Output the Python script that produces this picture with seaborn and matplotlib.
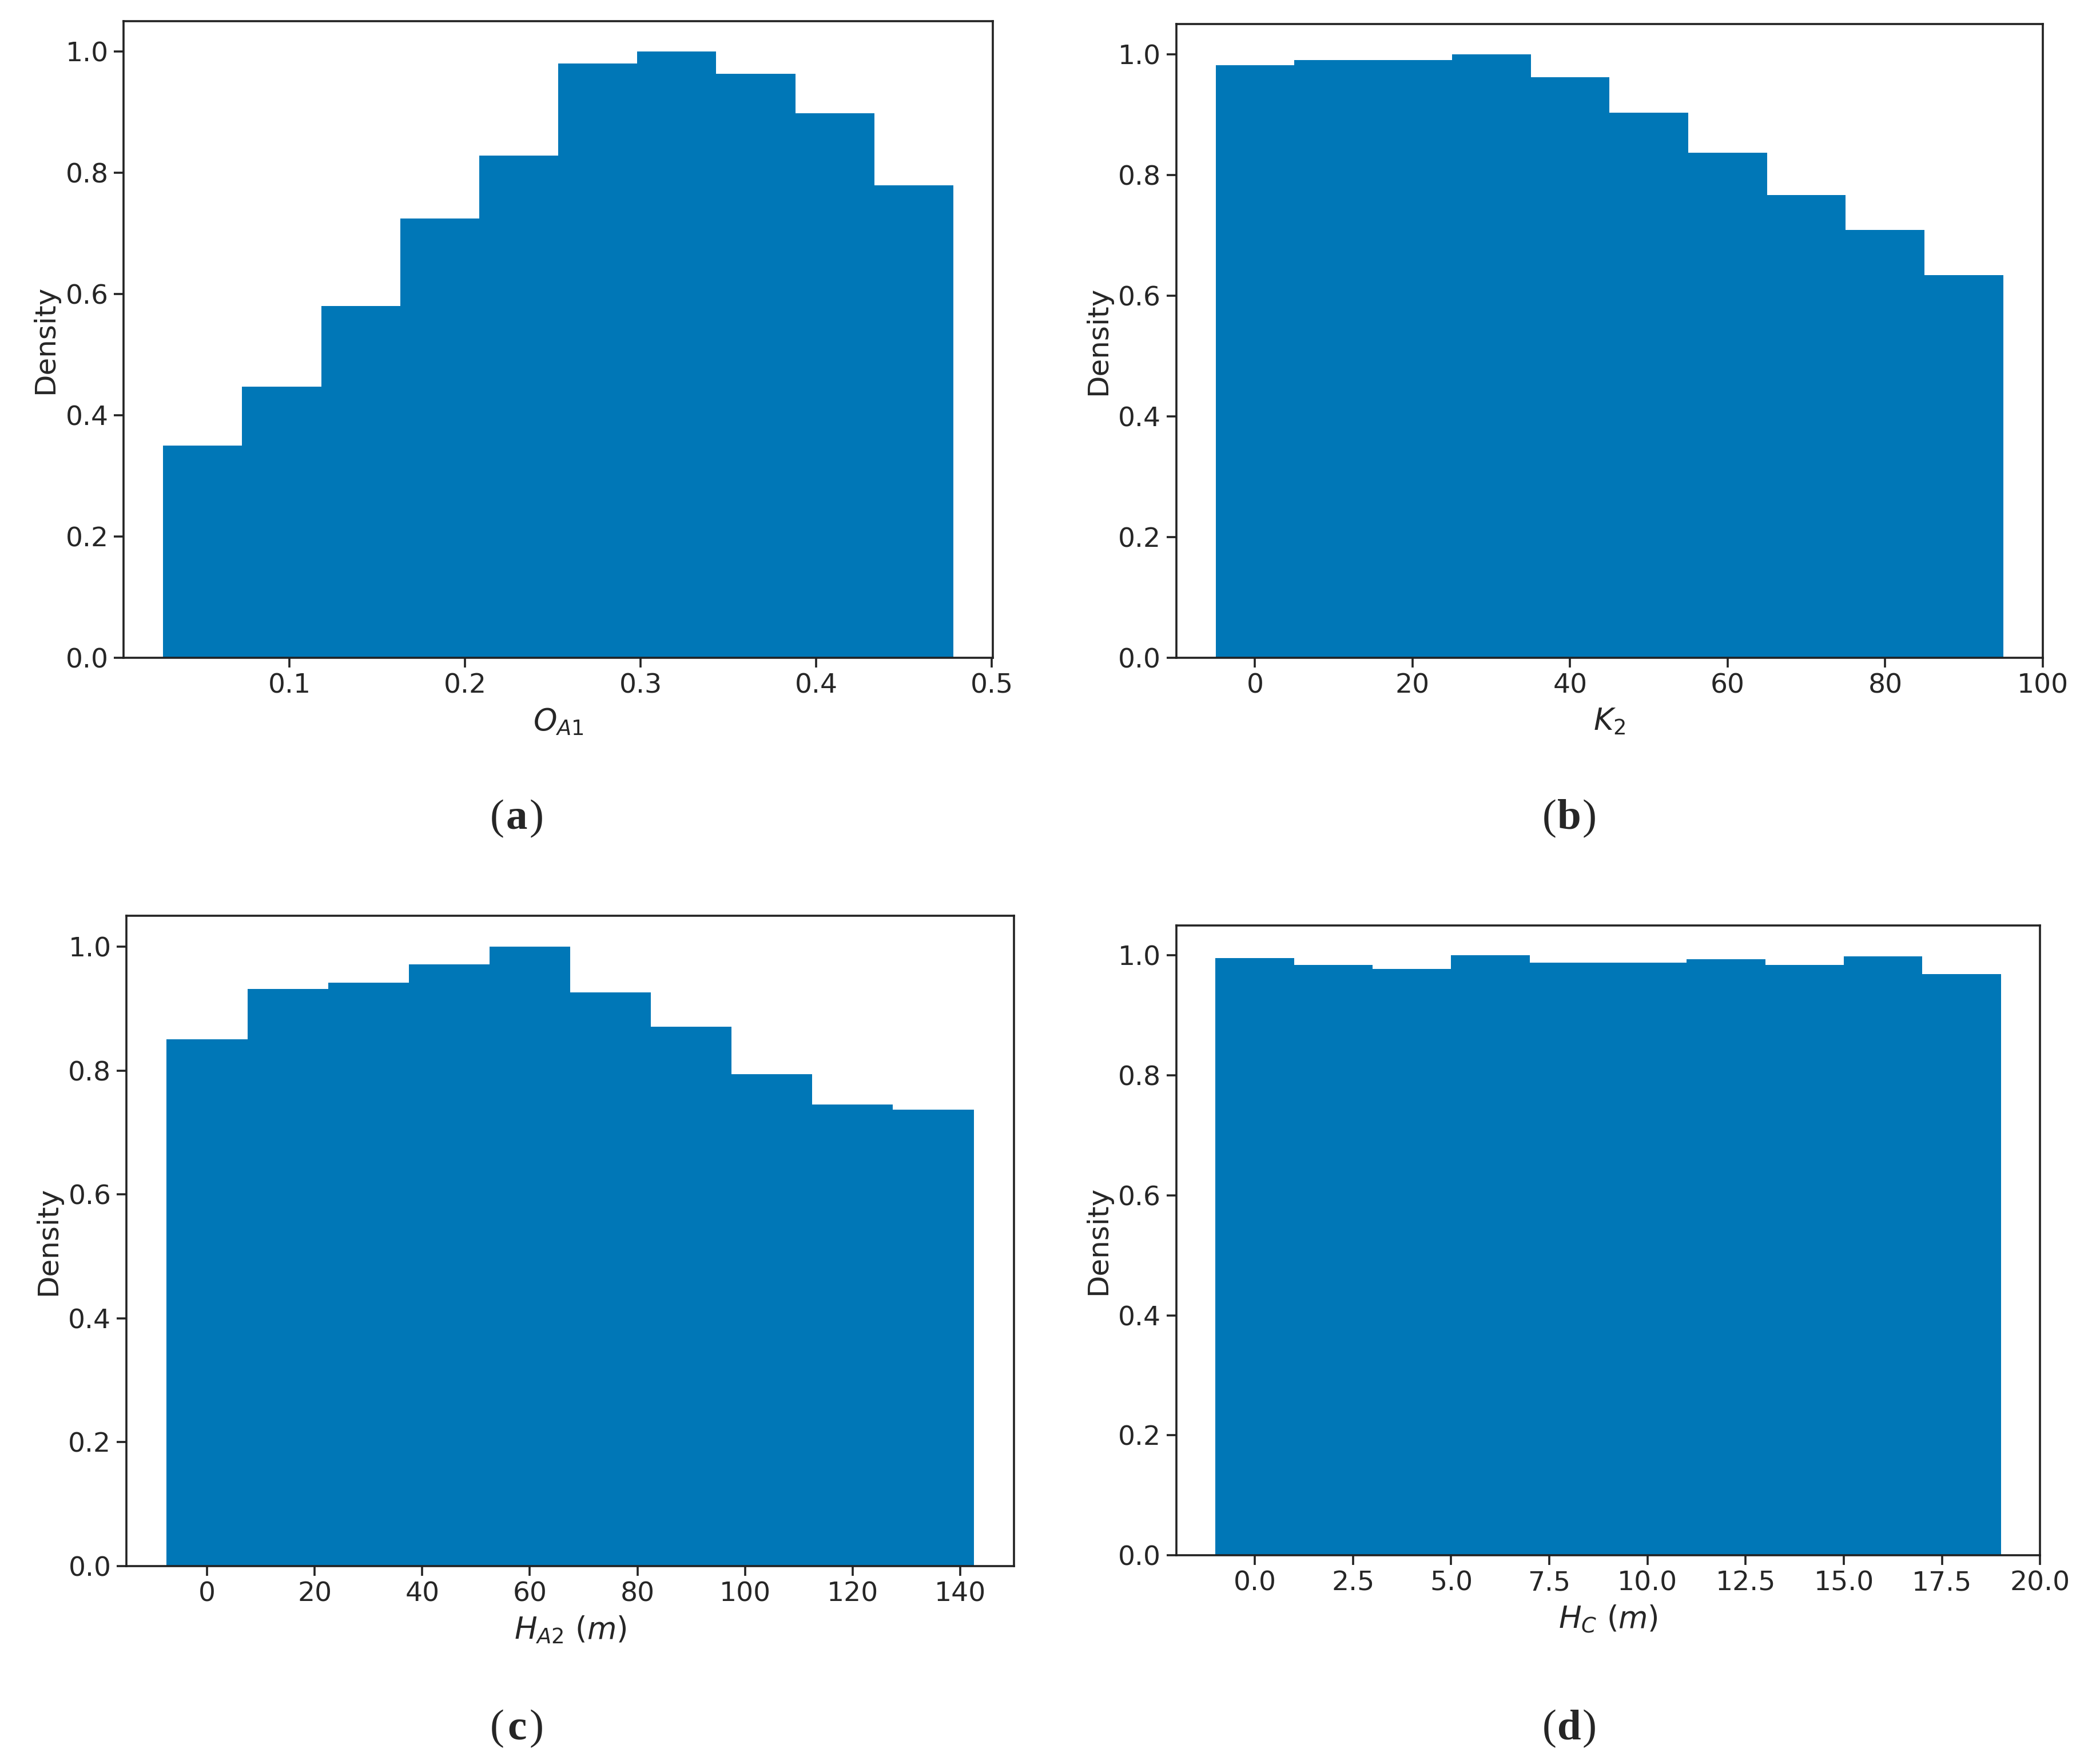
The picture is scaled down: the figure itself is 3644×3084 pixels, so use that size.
import pandas as pd
import seaborn as sns
import matplotlib.pyplot as plt

sns.set_style("ticks")
plt.rcParams["font.family"] = ["DejaVu Sans"]

# bin edges and normalised heights
oa1_edges = [0.028, 0.073, 0.118, 0.163, 0.208, 0.253, 0.298, 0.343, 0.388, 0.433, 0.478]
oa1_heights = [0.350, 0.447, 0.580, 0.725, 0.828, 0.980, 1.000, 0.963, 0.898, 0.779]

k2_edges = [-5, 5, 15, 25, 35, 45, 55, 65, 75, 85, 95]
k2_heights = [0.982, 0.990, 0.990, 1.000, 0.962, 0.903, 0.837, 0.767, 0.709, 0.634]

ha2_edges = [-7.5, 7.5, 22.5, 37.5, 52.5, 67.5, 82.5, 97.5, 112.5, 127.5, 142.5]
ha2_heights = [0.851, 0.932, 0.942, 0.972, 1.000, 0.926, 0.871, 0.794, 0.745, 0.737]

hc_edges = [-1, 1, 3, 5, 7, 9, 11, 13, 15, 17, 19]
hc_heights = [0.995, 0.984, 0.977, 1.000, 0.988, 0.988, 0.993, 0.984, 0.998, 0.969]

xlabels = [r"$O_{A1}$", r"$K_2$", r"$H_{A2}\ (m)$", r"$H_C\ (m)$"]
xticks = [
    [0.1, 0.2, 0.3, 0.4, 0.5],
    [0, 20, 40, 60, 80, 100],
    [0, 20, 40, 60, 80, 100, 120, 140],
    [0.0, 2.5, 5.0, 7.5, 10.0, 12.5, 15.0, 17.5, 20.0],
]
xticklabels = [
    ["0.1", "0.2", "0.3", "0.4", "0.5"],
    ["0", "20", "40", "60", "80", "100"],
    ["0", "20", "40", "60", "80", "100", "120", "140"],
    ["0.0", "2.5", "5.0", "7.5", "10.0", "12.5", "15.0", "17.5", "20.0"],
]
yticks = [0.0, 0.2, 0.4, 0.6, 0.8, 1.0]
panel_tags = ["a", "b", "c", "d"]

series = [
    (oa1_edges, oa1_heights),
    (k2_edges, k2_heights),
    (ha2_edges, ha2_heights),
    (hc_edges, hc_heights),
]

# axes boxes [left, bottom, width, height] in figure fractions
boxes = [
    [0.0593, 0.627, 0.4171, 0.361],
    [0.5644, 0.627, 0.4158, 0.3594],
    [0.0606, 0.1123, 0.4260, 0.3685],
    [0.5644, 0.1183, 0.4146, 0.3572],
]
tag_pos = [(0.248, 0.536), (0.753, 0.536), (0.248, 0.020), (0.753, 0.020)]

bar_color = "#0077b7"

fig = plt.figure(figsize=(18.22, 15.42), dpi=200)

for i, (edges, heights) in enumerate(series):
    ax = fig.add_axes(boxes[i])
    centers = [(a + b) / 2 for a, b in zip(edges[:-1], edges[1:])]
    df = pd.DataFrame({"x": centers, "w": heights})
    sns.histplot(data=df, x="x", weights="w", bins=list(edges), stat="count",
                 color=bar_color, alpha=1, linewidth=0, ax=ax)
    ax.set_xticks(xticks[i])
    ax.set_xticklabels(xticklabels[i])
    ax.set_yticks(yticks)
    ax.set_yticklabels([f"{v:.1f}" for v in yticks])
    ax.set_xlabel(xlabels[i], fontsize=19, labelpad=5)
    ax.set_ylabel("Density", fontsize=18, labelpad=4)
    ax.tick_params(labelsize=17, length=6, width=1.3, color="#222222")
    for sp in ax.spines.values():
        sp.set_visible(True)
        sp.set_linewidth(1.3)
        sp.set_color("#222222")

    # panel tag "(a)" with a bold letter, serif font
    tx, ty = tag_pos[i]
    ax.annotate(panel_tags[i], (tx, ty), xycoords="figure fraction",
                family="Liberation Serif", fontsize=27, fontweight="bold",
                ha="center", va="center")
    ax.annotate("(", (tx, ty), xycoords="figure fraction", xytext=(-8, 0),
                textcoords="offset points", family="Liberation Serif",
                fontsize=27, ha="right", va="center")
    ax.annotate(")", (tx, ty), xycoords="figure fraction", xytext=(8, 0),
                textcoords="offset points", family="Liberation Serif",
                fontsize=27, ha="left", va="center")

fig.savefig("out.png", dpi=200)
